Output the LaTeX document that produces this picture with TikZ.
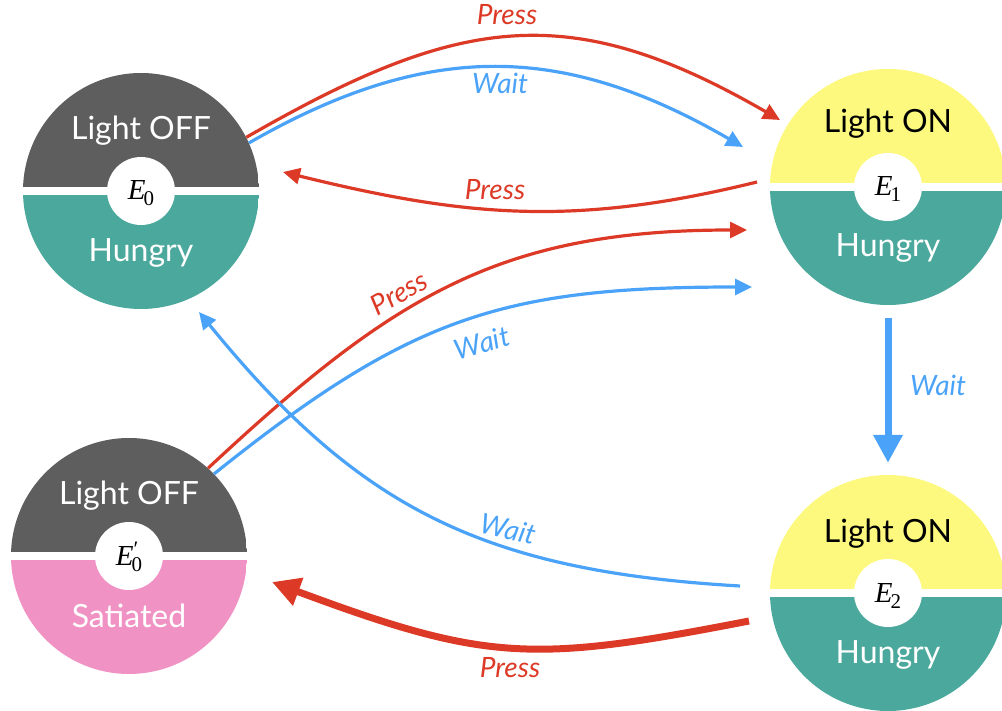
\documentclass[tikz,border=0pt]{standalone}
\usepackage{fontspec}
\setmainfont{Lato}
\newfontfamily\tnr{Liberation Serif}
\usetikzlibrary{arrows.meta,calc}
\definecolor{offgray}{HTML}{5E5E5E}
\definecolor{tealH}{HTML}{4BA89C}
\definecolor{onyellow}{HTML}{FDF97F}
\definecolor{pinkS}{HTML}{F093C4}
\definecolor{redA}{HTML}{DC3A26}
\definecolor{blueA}{HTML}{4AA3F8}
\newcommand{\elabel}[2]{{\tnr\fontsize{29}{29}\selectfont\itshape E\kern-2pt\rlap{\raisebox{9pt}{\upshape\fontsize{22}{22}\selectfont #2}}\raisebox{-6pt}{\upshape\fontsize{21}{21}\selectfont #1}}}
\tikzset{
  state/.style n args={2}{circle, minimum size=236pt, inner sep=0pt, path picture={
    \fill[#1] (path picture bounding box.north west) rectangle ([yshift=4pt]path picture bounding box.east);
    \fill[#2] ([yshift=-4pt]path picture bounding box.west) rectangle (path picture bounding box.south east);
    \fill[white] (path picture bounding box.center) circle[radius=34pt];
  }},
  stxt/.style={anchor=base, inner sep=0pt, font=\fontsize{32}{32}\selectfont},
  elab/.style={anchor=base, inner sep=0pt},
  lbl/.style={inner sep=0pt, font=\fontsize{28}{28}\selectfont\itshape},
  thinred/.style={draw=redA, line width=3.2pt, -{Triangle[length=17pt,width=16pt]}},
  thinblue/.style={draw=blueA, line width=3.2pt, -{Triangle[length=17pt,width=16pt]}},
  thickred/.style={draw=redA, line width=7pt, -{Triangle[length=28pt,width=28pt]}},
  thickblue/.style={draw=blueA, line width=7pt, -{Triangle[length=28pt,width=28pt]}},
}
\begin{document}
\begin{tikzpicture}[x=1pt,y=-1pt]
\useasboundingbox (0,0) rectangle (1002,711);
% states
\node[state={offgray}{tealH}] (E0) at (141,191) {};
\node[state={onyellow}{tealH}] (E1) at (888,187) {};
\node[state={offgray}{pinkS}] (E0p) at (129,556) {};
\node[state={onyellow}{tealH}] (E2) at (888,593) {};
% state texts
\node[stxt, text=white] (E0a) at ([yshift=51pt]E0.center) {Light OFF};
\node[stxt, text=white] (E0b) at ([yshift=-71pt]E0.center) {Hungry};
\node[stxt, text=black] (E1a) at ([yshift=54pt]E1.center) {Light ON};
\node[stxt, text=white] (E1b) at ([yshift=-70pt]E1.center) {Hungry};
\node[stxt, text=white] (E0pa) at ([yshift=52pt]E0p.center) {Light OFF};
\node[stxt, text=white] (E0pb) at ([yshift=-71pt]E0p.center) {Satiated};
\node[stxt, text=black] (E2a) at ([yshift=51pt]E2.center) {Light ON};
\node[stxt, text=white] (E2b) at ([yshift=-70pt]E2.center) {Hungry};
% E labels
\node[elab] (E0l) at ([yshift=-9pt]E0.center) {\elabel{0}{}};
\node[elab] (E1l) at ([yshift=-9pt]E1.center) {\elabel{1}{}};
\node[elab] (E0pl) at ([yshift=-9pt]E0p.center) {\elabel{0}{\kern2pt\char"2032}};
\node[elab] (E2l) at ([yshift=-9pt]E2.center) {\elabel{2}{}};
% free ends
\coordinate (a1e) at ($(E1)+(-108,-67)$);
\coordinate (a2e) at ($(E1)+(-145,-40)$);
\coordinate (a3s) at ($(E1)+(-131,-5)$);
\coordinate (a3e) at ($(E0)+(142,-19)$);
\coordinate (a4e) at ($(E1)+(-141,43)$);
\coordinate (a5e) at ($(E1)+(-136,100)$);
\coordinate (a6s) at ($(E2)+(-148,-7)$);
\coordinate (a6e) at ($(E0)+(58,121)$);
\coordinate (a7s) at ($(E2)+(-139,28)$);
\coordinate (a7e) at ($(E0p)+(143,26)$);
% connectors
\draw[thinred] (E0.27) .. controls (459,15) and (569,-2) .. (a1e);
\draw[thinblue] (E0.24) .. controls (430,39) and (565,44) .. (a2e);
\draw[thinred] (a3s) .. controls (574,227) and (466,217) .. (a3e);
\draw[thinred] (E0p.48) .. controls (391,298) and (497,230) .. (a4e);
\draw[thinblue] (E0p.44) .. controls (410,317) and (502,287) .. (a5e);
\draw[thinblue] (a6s) .. controls (480,571) and (357,506) .. (a6e);
\draw[thickred] (a7s) .. controls (533,663) and (487,662) .. (a7e);
\draw[thickblue, shorten <=13pt, shorten >=12pt] (E1.south) -- (E2.north);
% labels
\node[lbl, text=redA] (l1) at (507,15) {Press};
\node[lbl, text=blueA] (l2) at (500,83) {Wait};
\node[lbl, text=redA] (l3) at (495,190) {Press};
\node[lbl, text=redA, rotate=30] (l4) at (399,293) {Press};
\node[lbl, text=blueA, rotate=16] (l5) at (482,343) {Wait};
\node[lbl, text=blueA, rotate=-13] (l6) at (508,529) {Wait};
\node[lbl, text=redA] (l7) at (510,668) {Press};
\node[lbl, text=blueA] (l8) at (938,385) {Wait};
\end{tikzpicture}
\end{document}
